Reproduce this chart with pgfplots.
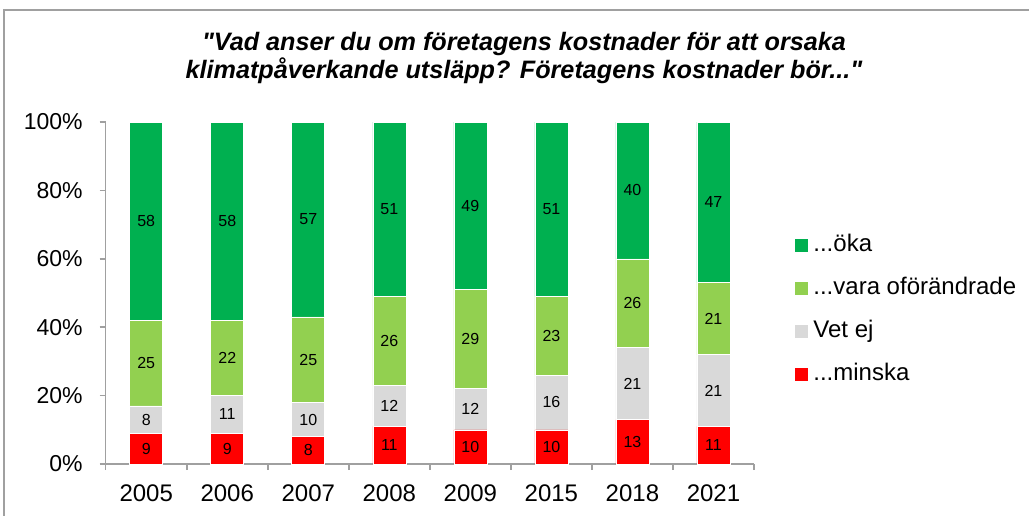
\documentclass[border=0pt]{standalone}
\usepackage{fontspec}
\setmainfont{Liberation Sans}
\newfontfamily\titlefont{Liberation Sans}[Ligatures=TeXOff]
\usepackage{pgfplots}
\pgfplotsset{compat=1.18}
\definecolor{cOka}{RGB}{0,176,80}
\definecolor{cOfor}{RGB}{146,208,80}
\definecolor{cVet}{RGB}{217,217,217}
\definecolor{cMin}{RGB}{255,0,0}
\definecolor{axgray}{RGB}{160,160,160}
\pgfplotsset{
  commonaxis/.style={
    at={(52.85pt,25.5pt)}, anchor=south west,
    scale only axis, width=324.15pt, height=171pt,
    xmin=-0.5, xmax=7.5, ymin=0, ymax=100, clip=false,
  }
}
\begin{document}
\begin{tikzpicture}
\begin{axis}[
  commonaxis,
  ybar stacked, bar width=16.5pt,
  xtick={0,1,2,3,4,5,6,7},
  xticklabels={2005,2006,2007,2008,2009,2015,2018,2021},
  minor xtick={-0.5,0.5,1.5,2.5,3.5,4.5,5.5,6.5,7.5},
  major x tick style={draw=none},
  minor tick length=3pt,
  ytick={0,20,40,60,80,100},
  yticklabel={\pgfmathprintnumber{\tick}\%},
  /pgf/number format/assume math mode=true,
  tick align=outside, major tick length=3pt,
  axis x line*=bottom, axis y line*=left,
  axis line style={axgray, line width=0.8pt},
  every tick/.style={axgray, line width=0.8pt},
  xticklabel style={font=\fontsize{12}{14}\selectfont, yshift=-4pt},
  yticklabel style={font=\fontsize{11.5}{14}\selectfont, xshift=-5pt},
  every axis plot/.append style={draw=white, line width=0.3pt},
  legend style={draw=none, at={(1.054,0.686)}, anchor=north west,
    font=\fontsize{12}{14}\selectfont, row sep=10pt,
    /tikz/every odd column/.append style={column sep=2.5pt},
    nodes={inner sep=0pt, text height=9pt, text depth=2.5pt, right}},
  legend cell align=left,
  reverse legend,
  legend image code/.code={\fill[#1, draw=none] (0pt,-3.25pt) rectangle (6.5pt,3.25pt);},
]
\addplot[fill=cMin] coordinates {(0,9) (1,9) (2,8) (3,11) (4,10) (5,10) (6,13) (7,11)};
\addlegendentry{{...}minska}
\addplot[fill=cVet] coordinates {(0,8) (1,11) (2,10) (3,12) (4,12) (5,16) (6,21) (7,21)};
\addlegendentry{Vet ej}
\addplot[fill=cOfor] coordinates {(0,25) (1,22) (2,25) (3,26) (4,29) (5,23) (6,26) (7,21)};
\addlegendentry{{...}vara oförändrade}
\addplot[fill=cOka] coordinates {(0,58) (1,58) (2,57) (3,51) (4,49) (5,51) (6,40) (7,47)};
\addlegendentry{{...}öka}
\end{axis}
\begin{axis}[
  commonaxis, hide axis,
  nodes near coords, point meta=explicit symbolic,
  nodes near coords style={font=\fontsize{8}{9}\selectfont, anchor=center, inner sep=0pt},
]
\addplot[draw=none, mark=none] coordinates {
  (0,4.5) [9] (1,4.5) [9] (2,4) [8] (3,5.5) [11] (4,5) [10] (5,5) [10] (6,6.5) [13] (7,5.5) [11]};
\addplot[draw=none, mark=none] coordinates {
  (0,13) [8] (1,14.5) [11] (2,13) [10] (3,17) [12] (4,16) [12] (5,18) [16] (6,23.5) [21] (7,21.5) [21]};
\addplot[draw=none, mark=none] coordinates {
  (0,29.5) [25] (1,31) [22] (2,30.5) [25] (3,36) [26] (4,36.5) [29] (5,37.5) [23] (6,47) [26] (7,42.5) [21]};
\addplot[draw=none, mark=none] coordinates {
  (0,71) [58] (1,71) [58] (2,71.5) [57] (3,74.5) [51] (4,75.5) [49] (5,74.5) [51] (6,80) [40] (7,76.5) [47]};
\end{axis}
\node[font=\titlefont\fontsize{12.6}{12.8}\selectfont\bfseries\itshape, align=center] at (262pt,228.5pt)
  {"Vad anser du om företagens kostnader för att orsaka\\klimatpåverkande utsläpp? Företagens kostnader bör..."};
\draw[axgray, line width=1pt] (1.75pt,-10pt) -- (1.75pt,252.25pt) -- (530pt,252.25pt);
\pgfresetboundingbox
\useasboundingbox (0,0) rectangle (514.5pt,257.5pt);
\end{tikzpicture}
\end{document}
